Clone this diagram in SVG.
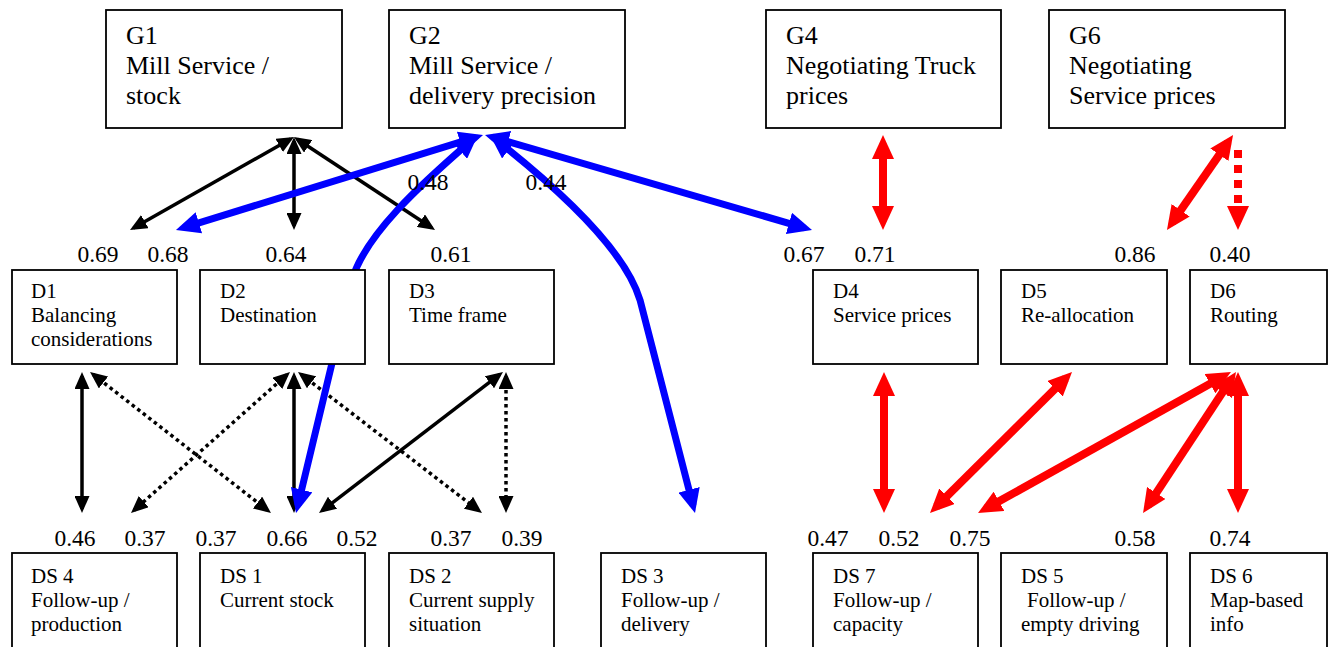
<svg xmlns="http://www.w3.org/2000/svg" width="1328" height="647" viewBox="0 0 1328 647">
<style>
.box{fill:#fff;stroke:#000;stroke-width:1.8}
.g{font-size:26px}
.d{font-size:21px}
.n{font-size:23.5px;text-anchor:middle}
.k{stroke:#000;stroke-width:3.5;fill:none}
.kd{stroke:#000;stroke-width:3.5;fill:none;stroke-dasharray:3.5 3.5}
.b{stroke:#0000ff;stroke-width:7;fill:none}
.r{stroke:#ff0000;stroke-width:8;fill:none}
.rd{stroke:#ff0000;stroke-width:8;fill:none;stroke-dasharray:8 7}
</style>
<defs>
<marker id="mk" viewBox="0 0 17 15" markerWidth="17" markerHeight="15" refX="13" refY="7.5" orient="auto-start-reverse" markerUnits="userSpaceOnUse"><path d="M0,0 L17,7.5 L0,15 z" fill="#000"/></marker>
<marker id="mb" viewBox="0 0 24 22" markerWidth="24" markerHeight="22" refX="16" refY="11" orient="auto-start-reverse" markerUnits="userSpaceOnUse"><path d="M0,0 L24,11 L0,22 z" fill="#0000ff"/></marker>
<marker id="mr" viewBox="0 0 24 22" markerWidth="24" markerHeight="22" refX="15" refY="11" orient="auto-start-reverse" markerUnits="userSpaceOnUse"><path d="M0,0 L24,11 L0,22 z" fill="#ff0000"/></marker>
</defs>

<g id="connectors">
<line class="k" x1="290.5" y1="139" x2="133.5" y2="228" marker-start="url(#mk)" marker-end="url(#mk)"/>
<line class="k" x1="294" y1="141" x2="294" y2="226" marker-start="url(#mk)" marker-end="url(#mk)"/>
<line class="k" x1="297.3" y1="139.2" x2="431.7" y2="227.8" marker-start="url(#mk)" marker-end="url(#mk)"/>
<line class="k" x1="82" y1="376" x2="82" y2="509" marker-start="url(#mk)" marker-end="url(#mk)"/>
<line class="kd" x1="93.2" y1="374.5" x2="267.8" y2="510.5" marker-start="url(#mk)" marker-end="url(#mk)"/>
<line class="kd" x1="287" y1="374.7" x2="134" y2="510.3" marker-start="url(#mk)" marker-end="url(#mk)"/>
<line class="k" x1="294" y1="376" x2="294" y2="509" marker-start="url(#mk)" marker-end="url(#mk)"/>
<line class="kd" x1="301.2" y1="374.4" x2="478.8" y2="510.6" marker-start="url(#mk)" marker-end="url(#mk)"/>
<line class="k" x1="499.8" y1="374.4" x2="322.2" y2="510.6" marker-start="url(#mk)" marker-end="url(#mk)"/>
<line class="kd" x1="506" y1="376" x2="506" y2="509" marker-start="url(#mk)" marker-end="url(#mk)"/>

<line class="b" x1="475.4" y1="137.4" x2="183.6" y2="227.6" marker-start="url(#mb)" marker-end="url(#mb)"/>
<line class="b" x1="492.7" y1="137.2" x2="804.3" y2="227.8" marker-start="url(#mb)" marker-end="url(#mb)"/>
<path class="b" d="M472,140 C420,185 365,235 352,280 L297.9,505.2" marker-start="url(#mb)" marker-end="url(#mb)"/>
<path class="b" d="M496.3,139.9 C560,190 625,250 640,300 L693,505.3" marker-start="url(#mb)" marker-end="url(#mb)"/>

<line class="r" x1="883" y1="144" x2="883" y2="221" marker-start="url(#mr)" marker-end="url(#mr)"/>
<line class="r" x1="1227.9" y1="142.4" x2="1172.1" y2="222.6" marker-start="url(#mr)" marker-end="url(#mr)"/>
<line class="rd" x1="1238" y1="150" x2="1238" y2="221" marker-end="url(#mr)"/>
<line class="r" x1="884" y1="381" x2="884" y2="504" marker-start="url(#mr)" marker-end="url(#mr)"/>
<line class="r" x1="1065.6" y1="378.3" x2="936.4" y2="506.7" marker-start="url(#mr)" marker-end="url(#mr)"/>
<line class="r" x1="1223.1" y1="376.4" x2="985.9" y2="508.6" marker-start="url(#mr)" marker-end="url(#mr)"/>
<line class="r" x1="1231" y1="379.5" x2="1148" y2="505.5" marker-start="url(#mr)" marker-end="url(#mr)"/>
<line class="r" x1="1238" y1="381" x2="1238" y2="504" marker-start="url(#mr)" marker-end="url(#mr)"/>
</g>

<g font-family="Liberation Serif" fill="#000">
<g id="labels">
<text class="n" x="98" y="262">0.69</text>
<text class="n" x="168" y="262">0.68</text>
<text class="n" x="286" y="262">0.64</text>
<text class="n" x="451" y="262">0.61</text>
<text class="n" x="428" y="190">0.48</text>
<text class="n" x="546" y="190">0.44</text>
<text class="n" x="804" y="262">0.67</text>
<text class="n" x="875" y="262">0.71</text>
<text class="n" x="1135" y="262">0.86</text>
<text class="n" x="1230" y="262">0.40</text>
<text class="n" x="75" y="546">0.46</text>
<text class="n" x="145" y="546">0.37</text>
<text class="n" x="216" y="546">0.37</text>
<text class="n" x="287" y="546">0.66</text>
<text class="n" x="357" y="546">0.52</text>
<text class="n" x="451" y="546">0.37</text>
<text class="n" x="522" y="546">0.39</text>
<text class="n" x="828" y="546">0.47</text>
<text class="n" x="899" y="546">0.52</text>
<text class="n" x="970" y="546">0.75</text>
<text class="n" x="1135" y="546">0.58</text>
<text class="n" x="1230" y="546">0.74</text>
</g>

<g id="G1"><rect class="box" x="106" y="10" width="236" height="118"/><text class="g" x="126" y="44">G1</text><text class="g" x="126" y="74">Mill Service /</text><text class="g" x="126" y="104">stock</text></g>
<g id="G2"><rect class="box" x="389" y="10" width="236" height="118"/><text class="g" x="409" y="44">G2</text><text class="g" x="409" y="74">Mill Service /</text><text class="g" x="409" y="104">delivery precision</text></g>
<g id="G4"><rect class="box" x="766" y="10" width="235" height="118"/><text class="g" x="786" y="44">G4</text><text class="g" x="786" y="74">Negotiating Truck</text><text class="g" x="786" y="104">prices</text></g>
<g id="G6"><rect class="box" x="1049" y="10" width="236" height="118"/><text class="g" x="1069" y="44">G6</text><text class="g" x="1069" y="74">Negotiating</text><text class="g" x="1069" y="104">Service prices</text></g>

<g id="D1"><rect class="box" x="12" y="270" width="165" height="94"/><text class="d" x="31" y="298">D1</text><text class="d" x="31" y="322">Balancing</text><text class="d" x="31" y="346">considerations</text></g>
<g id="D2"><rect class="box" x="200" y="270" width="165" height="94"/><text class="d" x="220" y="298">D2</text><text class="d" x="220" y="322">Destination</text></g>
<g id="D3"><rect class="box" x="389" y="270" width="165" height="94"/><text class="d" x="409" y="298">D3</text><text class="d" x="409" y="322">Time frame</text></g>
<g id="D4"><rect class="box" x="813" y="270" width="165" height="94"/><text class="d" x="833" y="298">D4</text><text class="d" x="833" y="322">Service prices</text></g>
<g id="D5"><rect class="box" x="1001" y="270" width="166" height="94"/><text class="d" x="1021" y="298">D5</text><text class="d" x="1021" y="322">Re-allocation</text></g>
<g id="D6"><rect class="box" x="1190" y="270" width="137" height="94"/><text class="d" x="1210" y="298">D6</text><text class="d" x="1210" y="322">Routing</text></g>

<g id="DS4"><rect class="box" x="12" y="553" width="165" height="110"/><text class="d" x="31" y="583">DS 4</text><text class="d" x="31" y="607">Follow-up /</text><text class="d" x="31" y="631">production</text></g>
<g id="DS1"><rect class="box" x="200" y="553" width="165" height="110"/><text class="d" x="220" y="583">DS 1</text><text class="d" x="220" y="607">Current stock</text></g>
<g id="DS2"><rect class="box" x="389" y="553" width="165" height="110"/><text class="d" x="409" y="583">DS 2</text><text class="d" x="409" y="607">Current supply</text><text class="d" x="409" y="631">situation</text></g>
<g id="DS3"><rect class="box" x="601" y="553" width="165" height="110"/><text class="d" x="621" y="583">DS 3</text><text class="d" x="621" y="607">Follow-up /</text><text class="d" x="621" y="631">delivery</text></g>
<g id="DS7"><rect class="box" x="813" y="553" width="165" height="110"/><text class="d" x="833" y="583">DS 7</text><text class="d" x="833" y="607">Follow-up /</text><text class="d" x="833" y="631">capacity</text></g>
<g id="DS5"><rect class="box" x="1001" y="553" width="166" height="110"/><text class="d" x="1021" y="583">DS 5</text><text class="d" x="1027" y="607">Follow-up /</text><text class="d" x="1021" y="631">empty driving</text></g>
<g id="DS6"><rect class="box" x="1190" y="553" width="137" height="110"/><text class="d" x="1210" y="583">DS 6</text><text class="d" x="1210" y="607">Map-based</text><text class="d" x="1210" y="631">info</text></g>
</g>
</svg>
